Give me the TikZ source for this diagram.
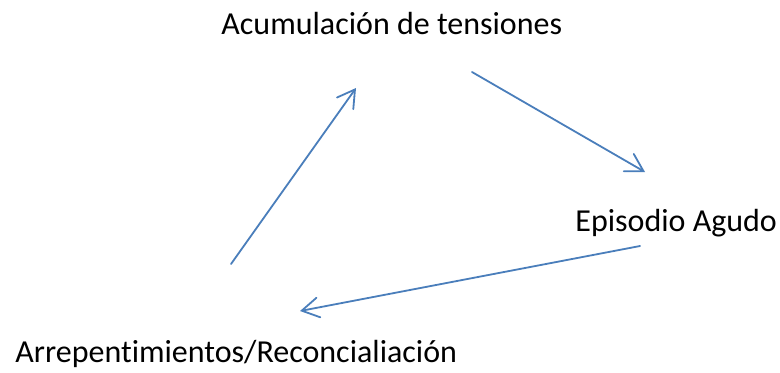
\documentclass[tikz,border=0pt]{standalone}
\usepackage{fontspec}
\setmainfont{Carlito}[Ligatures=NoCommon]
\usetikzlibrary{arrows.meta}
\definecolor{ciclo}{HTML}{4A7EBB}
\begin{document}
\begin{tikzpicture}[x=0.5pt,y=-0.5pt,
  lbl/.style={anchor=base west,inner sep=0pt,font=\fontsize{16}{19}\selectfont},
  arr/.style={draw=ciclo,line width=0.9pt,line cap=round,line join=round,
    -{Straight Barb[length=8.5pt,width=10pt,line cap=round]}}]
  \useasboundingbox (0,0) rectangle (780,372);
  %fases del ciclo
  \node[lbl] (tension) at (221,34) {Acumulación de tensiones};
  \node[lbl] (agudo) at (575,231) {Episodio Agudo};
  \node[lbl] (arrep) at (15,362) {Arrepentimientos/Reconcialiación};
  %extremos de las flechas
  \coordinate (t1) at (472,72);
  \coordinate (a1) at (645,172);
  \coordinate (a2) at (640,246);
  \coordinate (r1) at (300,311);
  \coordinate (r2) at (231,264);
  \coordinate (t2) at (356,88);
  \draw[arr] (t1) -- (a1);
  \draw[arr] (a2) -- (r1);
  \draw[arr] (r2) -- (t2);
\end{tikzpicture}
\end{document}
